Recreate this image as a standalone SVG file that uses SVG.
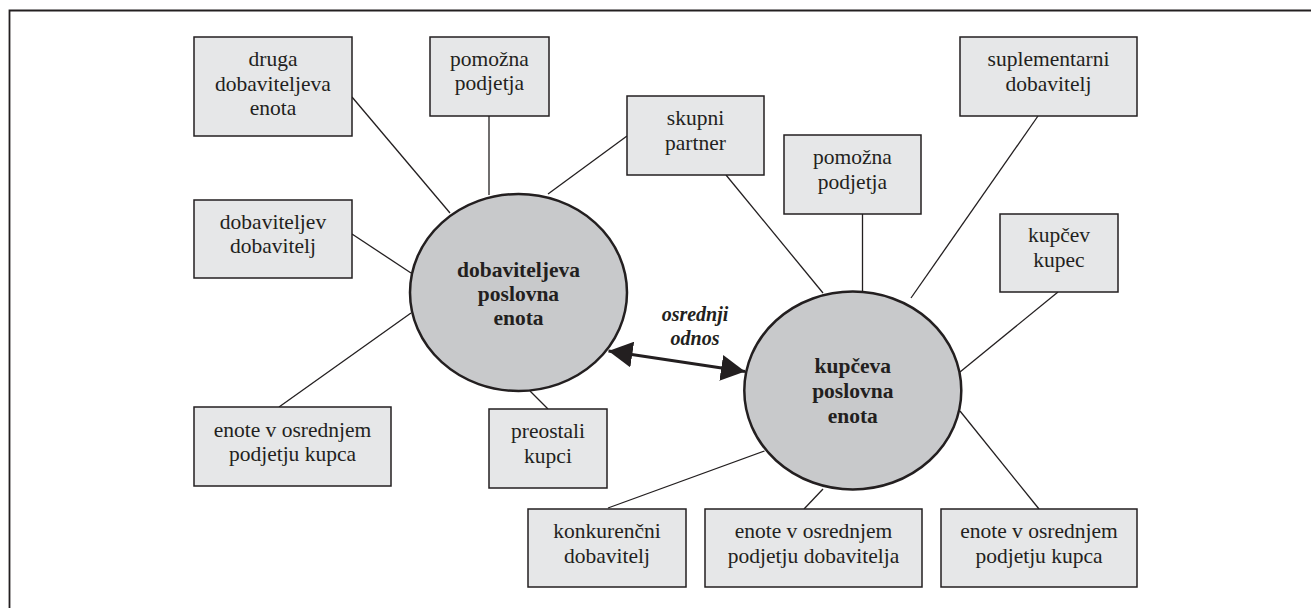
<svg xmlns="http://www.w3.org/2000/svg" width="1311" height="608" viewBox="0 0 1311 608">
<style>
.box rect{fill:#e6e7e8;stroke:#231f20;stroke-width:1.5}
.box text{font-family:"Liberation Serif","Times New Roman",serif;font-size:21.5px;fill:#231f20;text-anchor:middle}
.hub ellipse{fill:#c8c9cb;stroke:#231f20;stroke-width:2.5}
.hub text{font-family:"Liberation Serif","Times New Roman",serif;font-size:21.5px;font-weight:bold;fill:#231f20;text-anchor:middle}
.conn line{stroke:#231f20;stroke-width:1.3}
.lbl{font-family:"Liberation Serif","Times New Roman",serif;font-size:20px;font-weight:bold;font-style:italic;fill:#231f20;text-anchor:middle}
</style>
<defs>
<marker id="ah" markerUnits="userSpaceOnUse" markerWidth="26" markerHeight="26" refX="24" refY="13" orient="auto-start-reverse">
<path d="M0,0 L24,13 L0,26 z" fill="#231f20"/>
</marker>
</defs>
<rect width="1311" height="608" fill="#ffffff"/>
<path d="M9.5,608 V10.5 H1311" fill="none" stroke="#231f20" stroke-width="1.8"/>
<g id="connectors" class="conn">
<line x1="352" y1="97" x2="450" y2="213"/>
<line x1="489" y1="116" x2="489" y2="195"/>
<line x1="352" y1="234" x2="411" y2="273"/>
<line x1="627" y1="136" x2="548" y2="194"/>
<line x1="279" y1="407" x2="411" y2="313"/>
<line x1="548" y1="409" x2="530" y2="391"/>
<line x1="726" y1="175" x2="823" y2="293"/>
<line x1="862.5" y1="214" x2="862.5" y2="292"/>
<line x1="1038" y1="116" x2="911" y2="298"/>
<line x1="1058" y1="292" x2="960" y2="372"/>
<line x1="608" y1="508" x2="764.5" y2="451"/>
<line x1="804" y1="509" x2="823" y2="489"/>
<line x1="1039" y1="509" x2="960" y2="411"/>
<line x1="608.5" y1="351" x2="745" y2="371.5" style="stroke-width:3" marker-start="url(#ah)" marker-end="url(#ah)"/>
</g>
<g id="hub-dobavitelj" class="hub">
<ellipse cx="518.5" cy="292.5" rx="108.5" ry="98.5"/>
<text x="518.5" y="277">dobaviteljeva</text>
<text x="518.5" y="301">poslovna</text>
<text x="518.5" y="325">enota</text>
</g>
<g id="hub-kupec" class="hub">
<ellipse cx="852.8" cy="390.5" rx="108.5" ry="99"/>
<text x="852.8" y="373">kupčeva</text>
<text x="852.8" y="398">poslovna</text>
<text x="852.8" y="423">enota</text>
</g>
<g id="label-odnos">
<text class="lbl" x="695" y="321">osrednji</text>
<text class="lbl" x="695" y="345">odnos</text>
</g>
<g id="n-druga" class="box"><rect x="194" y="37" width="158" height="99"/><text x="273" y="66">druga</text><text x="273" y="91">dobaviteljeva</text><text x="273" y="115">enota</text></g>
<g id="n-pomozna-l" class="box"><rect x="430" y="37" width="119" height="79"/><text x="489.5" y="66">pomožna</text><text x="489.5" y="90">podjetja</text></g>
<g id="n-skupni" class="box"><rect x="627" y="96" width="137" height="79"/><text x="695.5" y="125">skupni</text><text x="695.5" y="150">partner</text></g>
<g id="n-suplementarni" class="box"><rect x="960" y="37" width="177" height="79"/><text x="1048.5" y="66">suplementarni</text><text x="1048.5" y="91">dobavitelj</text></g>
<g id="n-pomozna-r" class="box"><rect x="784" y="135" width="137" height="79"/><text x="852.5" y="164">pomožna</text><text x="852.5" y="189">podjetja</text></g>
<g id="n-dobaviteljev" class="box"><rect x="194" y="200" width="158" height="78"/><text x="273" y="229">dobaviteljev</text><text x="273" y="253">dobavitelj</text></g>
<g id="n-kupcev-kupec" class="box"><rect x="1000" y="214" width="118" height="78"/><text x="1059" y="242">kupčev</text><text x="1059" y="267">kupec</text></g>
<g id="n-enote-l" class="box"><rect x="194" y="407" width="197" height="79"/><text x="292.5" y="437">enote v osrednjem</text><text x="292.5" y="461">podjetju kupca</text></g>
<g id="n-preostali" class="box"><rect x="489" y="409" width="118" height="79"/><text x="548" y="438">preostali</text><text x="548" y="463">kupci</text></g>
<g id="n-konkurencni" class="box"><rect x="528" y="509" width="158" height="78"/><text x="607" y="538">konkurenčni</text><text x="607" y="563">dobavitelj</text></g>
<g id="n-enote-dob" class="box"><rect x="705" y="509" width="217" height="78"/><text x="813.5" y="538">enote v osrednjem</text><text x="813.5" y="563">podjetju dobavitelja</text></g>
<g id="n-enote-kupca-r" class="box"><rect x="941" y="509" width="196" height="78"/><text x="1039" y="538">enote v osrednjem</text><text x="1039" y="563">podjetju kupca</text></g>
</svg>
